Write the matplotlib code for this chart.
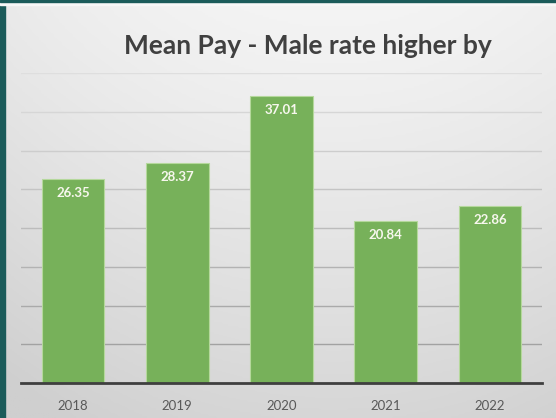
import numpy as np
import matplotlib.pyplot as plt
from matplotlib.colors import LinearSegmentedColormap

plt.rcParams['font.family'] = ['Lato', 'DejaVu Sans']

# Pay gap figures by year
years = ['2018', '2019', '2020', '2021', '2022']
gap = [26.35, 28.37, 37.01, 20.84, 22.86]
grid_levels = [5, 10, 15, 20, 25, 30, 35, 40]

fig = plt.figure(figsize=(5.56, 4.18), dpi=100)

# Soft grey gradient backdrop, lighter near the top
bg = fig.add_axes([0, 0, 1, 1], zorder=-2)
yy, xx = np.mgrid[0:1:200j, 0:1:200j]
shade = 0.8 * yy ** 1.2 + 0.2 * ((xx - 0.6) * 2) ** 2
bg_cmap = LinearSegmentedColormap.from_list('bg', ['#f4f4f4', '#cfcfcf'])
bg.imshow(shade, cmap=bg_cmap, aspect='auto', extent=[0, 1, 0, 1],
          origin='upper', vmin=0, vmax=1)
# Teal frame on the left and top, with a thin white strip under the top edge
bg.axvspan(0, 5 / 556, color='#1b5b5a')
bg.axhspan(1 - 5 / 418, 1, color='#f7f7f7')
bg.axhspan(1 - 2 / 418, 1, color='#1b5b5a')
bg.set_xlim(0, 1)
bg.set_ylim(0, 1)
bg.axis('off')

ax = fig.add_axes([21 / 556, 1 - 383 / 418, 521 / 556, 310 / 418])
ax.patch.set_alpha(0)

# Gridlines fade out toward the top of the plot
grid_cmap = LinearSegmentedColormap.from_list('grid', ['#a2a2a2', '#dedede'])
for lvl in grid_levels:
    ax.axhline(lvl, color=grid_cmap((lvl - 5) / 35), linewidth=1.0, zorder=1)

x = np.arange(len(years))
bars = ax.bar(x, gap, width=0.6, color='#77b15a', edgecolor='#b5d89c',
              linewidth=0.8, zorder=2)

for b, v in zip(bars, gap):
    ax.text(b.get_x() + b.get_width() / 2, v - 1.0, f'{v:.2f}',
            ha='center', va='top', color='#f7f7ee', fontsize=9.5,
            fontweight='bold', zorder=3)

ax.set_xlim(-0.5, len(years) - 0.5)
ax.set_ylim(0, 40)
ax.tick_params(axis='y', left=False, labelleft=False)
ax.tick_params(axis='x', bottom=False, labelsize=9.5, labelcolor='#595959', pad=9)
ax.set_xticks(x)
ax.set_xticklabels(years)
for side in ['top', 'right', 'left']:
    ax.spines[side].set_visible(False)
ax.spines['bottom'].set_color('#3f3f3f')
ax.spines['bottom'].set_linewidth(2)
ax.spines['bottom'].set_zorder(4)

fig.text(0.553, 1 - 46 / 418, 'Mean Pay - Male rate higher by', ha='center',
         va='center', fontsize=19, fontweight='bold', color='#404040')

fig.savefig('out.png', dpi=100)
